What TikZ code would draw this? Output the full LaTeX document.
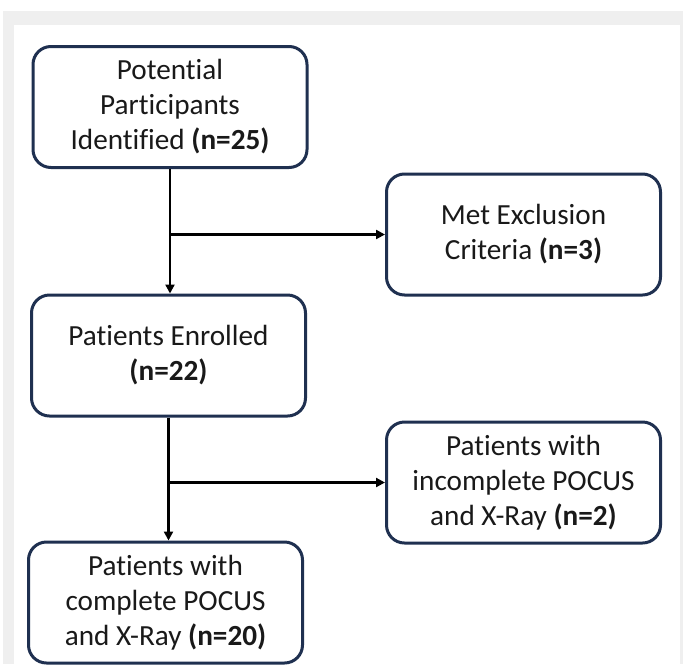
\documentclass[tikz,border=0pt]{standalone}
\usepackage{fontspec}
\setmainfont{Carlito}[Ligatures={NoCommon}]
\usetikzlibrary{arrows.meta}

\definecolor{boxline}{HTML}{1F3050}
\definecolor{pagegray}{HTML}{EFEFEF}

\tikzset{
  flowbox/.style={draw=boxline, line width=1.5pt, rounded corners=9pt, fill=white,
    align=center, minimum width=137pt, minimum height=60.5pt, inner sep=2pt,
    text=black!90, font=\fontsize{14.6}{17.5}\selectfont},
  flowarrow/.style={line width=1.2pt, -{Triangle[length=4.5pt,width=4.5pt]}},
  flowline/.style={line width=1.2pt}
}

\begin{document}
\begin{tikzpicture}[x=0.5pt,y=-0.5pt]

% page background
\useasboundingbox (0,0) rectangle (683,664);
\fill[pagegray] (3,11) rectangle (683,664);
\fill[white] (14,25) rectangle (680,664);

\node[flowbox] (ident) at (170,107) {Potential\\Participants\\Identified \textbf{(n=25)}};
\node[flowbox] (excl) at (523.5,234.5) {Met Exclusion\\Criteria \textbf{(n=3)}};
\node[flowbox] (enrol) at (168.5,355.5) {Patients Enrolled\\\textbf{(n=22)}};
\node[flowbox] (incompl) at (523.5,482.5) {Patients with\\incomplete POCUS\\and X-Ray \textbf{(n=2)}};
\node[flowbox] (compl) at (165.5,602.5) {Patients with\\complete POCUS\\and X-Ray \textbf{(n=20)}};

% branch points
\coordinate (split1) at (ident.south |- excl.west);
\coordinate (split2) at (enrol.south |- incompl.west);

\draw[flowarrow] (ident.south) -- (ident.south |- enrol.north);
\draw[flowarrow] (split1) -- (excl.west);
\draw[flowarrow] (enrol.south) -- (enrol.south |- compl.north);
\draw[flowarrow] (split2) -- (incompl.west);

\end{tikzpicture}
\end{document}
